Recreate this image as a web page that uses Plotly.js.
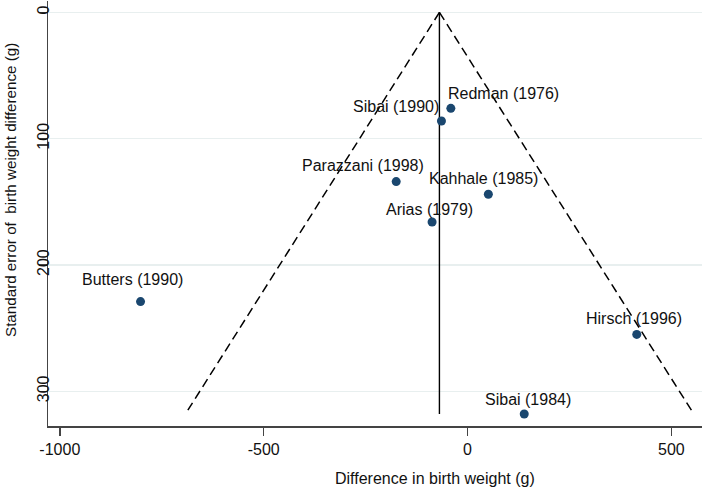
<!DOCTYPE html>
<html>
<head>
<meta charset="utf-8">
<script src="https://cdn.plot.ly/plotly-3.0.1.min.js"></script>
<style>html,body{margin:0;padding:0;background:#fff;}#chart{width:709px;height:488px;}</style>
</head>
<body>
<div id="chart"></div>
<script>
// ---- data ----
const studies = ["Redman (1976)", "Sibai (1990)", "Parazzani (1998)", "Kahhale (1985)", "Arias (1979)", "Butters (1990)", "Hirsch (1996)", "Sibai (1984)"];
const diffWeight = [-41, -64, -175, 51, -87, -802, 415, 139];
const seDiff = [76, 86, 134, 144, 166, 229, 255, 318];
const pooledEstimate = -69;
const pooledSeRange = [0, 318];
const funnelLeftX = [-69, -686];
const funnelRightX = [-69, 549];
const funnelY = [0, 315];
const xTickVals = [-1000, -500, 0, 500];
const yTickVals = [0, 100, 200, 300];

// ---- label placement (style only) ----
const labelXShift = [53, -45, -33, -5, -3, -8, -3, 4];
const labelYShift = [15, 14, 16, 16, 13, 22, 16, 15];

const navy = '#1a476f';
const font = 'Arial, "Liberation Sans", sans-serif';

const traces = [
  {x: funnelLeftX, y: funnelY, mode: 'lines', line: {color: '#000', width: 1.5, dash: '9px,5px'}, hoverinfo: 'skip', showlegend: false},
  {x: funnelRightX, y: funnelY, mode: 'lines', line: {color: '#000', width: 1.5, dash: '9px,5px'}, hoverinfo: 'skip', showlegend: false},
  {x: [pooledEstimate, pooledEstimate], y: pooledSeRange, mode: 'lines', line: {color: '#000', width: 1.4}, hoverinfo: 'skip', showlegend: false},
  {x: diffWeight, y: seDiff, text: studies, mode: 'markers', marker: {color: navy, size: 9}, showlegend: false}
];

const W = 709, H = 488, mL = 48, mR = 7, mT = 1, mB = 62;
const pw = W - mL - mR, ph = H - mT - mB;

const annotations = studies.map((s, i) => ({
  x: diffWeight[i], y: seDiff[i], xref: 'x', yref: 'y', text: s, showarrow: false,
  xanchor: 'center', yanchor: 'middle', xshift: labelXShift[i], yshift: labelYShift[i],
  font: {family: font, size: 16, color: '#111'}
}));
annotations.push({
  x: (435 - mL) / pw, y: (H - mB - 478) / ph, xref: 'paper', yref: 'paper',
  text: 'Difference in birth weight (g)', showarrow: false,
  xanchor: 'center', yanchor: 'middle', font: {family: font, size: 16, color: '#111'}
});
annotations.push({
  x: (10 - mL) / pw, y: (H - mB - 190) / ph, xref: 'paper', yref: 'paper',
  text: 'Standard error of\u00a0\u00a0birth weight difference (g)', showarrow: false,
  textangle: -90, xanchor: 'center', yanchor: 'middle', font: {family: font, size: 15.2, color: '#111'}
});

const layout = {
  width: W, height: H,
  margin: {l: mL, r: mR, t: mT, b: mB, pad: 0},
  paper_bgcolor: '#fff', plot_bgcolor: '#fff',
  font: {family: font, size: 16, color: '#111'},
  xaxis: {
    range: [-1029, 575], tickvals: xTickVals, ticktext: xTickVals.map(String),
    showgrid: false, zeroline: false, showline: true, linecolor: '#444', linewidth: 1.5,
    ticks: 'outside', ticklen: 8, tickwidth: 1.5, tickcolor: '#444',
    tickfont: {family: font, size: 16, color: '#111'}
  },
  yaxis: {
    range: [327.5, -9], tickvals: yTickVals, ticktext: yTickVals.map(String),
    showgrid: true, gridcolor: '#e8efef', gridwidth: 1.2, zeroline: false,
    showline: true, linecolor: '#444', linewidth: 1.5,
    ticks: 'outside', ticklen: 8, tickwidth: 1.5, tickcolor: '#444', tickangle: -90,
    ticklabelstandoff: -17,
    tickfont: {family: font, size: 16, color: '#111'}
  },
  annotations: annotations,
  showlegend: false
};

Plotly.newPlot('chart', traces, layout, {staticPlot: true, displayModeBar: false});
</script>
</body>
</html>
